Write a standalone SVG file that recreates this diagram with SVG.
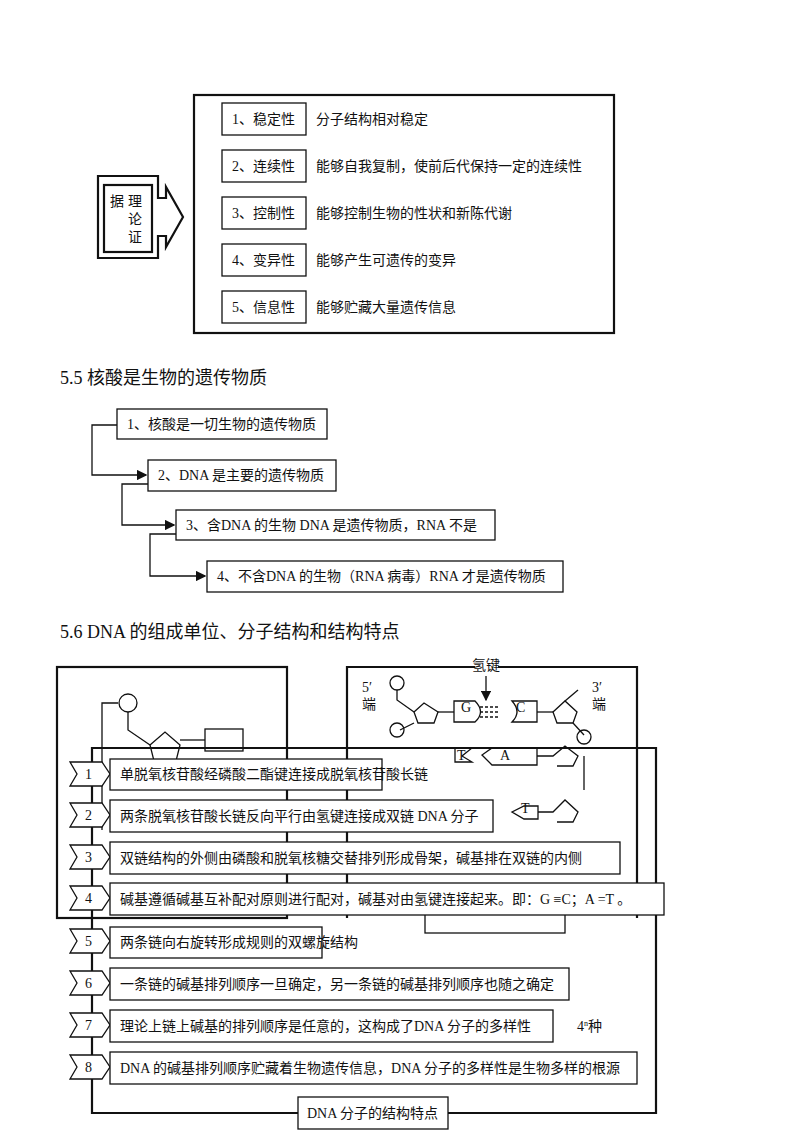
<svg xmlns="http://www.w3.org/2000/svg" width="800" height="1132" viewBox="0 0 800 1132">
<style>
text{font-family:"Liberation Serif","Noto Sans CJK SC",serif;font-size:14px;fill:#111}
.b{fill:#fff;stroke:#111;stroke-width:1.3}
.B{fill:none;stroke:#111;stroke-width:2.2}
.l{fill:none;stroke:#111;stroke-width:1.3}
.t{font-size:18px}
</style>
<defs><marker id="a" markerWidth="8" markerHeight="8" refX="7" refY="4" orient="auto"><path d="M0,0L8,4L0,8z" fill="#111"/></marker></defs>
<rect x="0" y="0" width="800" height="1132" fill="#fff"/>
<g id="top">
<rect class="B" x="194" y="95" width="420" height="238"/>
<path class="B" d="M98,176H158V198H166V187L183,217L166,247V236H158V258H98Z"/>
<rect class="B" x="104" y="185" width="48" height="67"/>
<text x="110" y="206">据</text><text x="128" y="206">理</text><text x="128" y="224">论</text><text x="128" y="242">证</text>
<rect class="b" x="222" y="103" width="84" height="32"/><text x="232" y="124">1、稳定性</text><text x="316" y="124">分子结构相对稳定</text>
<rect class="b" x="222" y="150" width="84" height="32"/><text x="232" y="171">2、连续性</text><text x="316" y="171">能够自我复制，使前后代保持一定的连续性</text>
<rect class="b" x="222" y="197" width="84" height="32"/><text x="232" y="218">3、控制性</text><text x="316" y="218">能够控制生物的性状和新陈代谢</text>
<rect class="b" x="222" y="244" width="84" height="32"/><text x="232" y="265">4、变异性</text><text x="316" y="265">能够产生可遗传的变异</text>
<rect class="b" x="222" y="291" width="84" height="32"/><text x="232" y="312">5、信息性</text><text x="316" y="312">能够贮藏大量遗传信息</text>
</g>
<text class="t" x="60" y="384">5.5 核酸是生物的遗传物质</text>
<g id="connectors55">
<path class="l" d="M117,425H92V475H146" marker-end="url(#a)"/>
<path class="l" d="M148,484H122V525H174" marker-end="url(#a)"/>
<path class="l" d="M176,534H150V576H205" marker-end="url(#a)"/>
</g>
<g id="n1"><rect class="b" x="117" y="409" width="210" height="30"/><text x="127" y="429">1、核酸是一切生物的遗传物质</text></g>
<g id="n2"><rect class="b" x="148" y="460" width="188" height="31"/><text x="158" y="480">2、DNA 是主要的遗传物质</text></g>
<g id="n3"><rect class="b" x="176" y="510" width="319" height="30"/><text x="186" y="530">3、含DNA 的生物 DNA 是遗传物质，RNA 不是</text></g>
<g id="n4"><rect class="b" x="207" y="561" width="356" height="31"/><text x="217" y="581">4、不含DNA 的生物（RNA 病毒）RNA 才是遗传物质</text></g>
<text class="t" x="60" y="638">5.6  DNA 的组成单位、分子结构和结构特点</text>
<g id="molecules">
<rect class="B" x="57" y="667" width="230" height="251"/>
<path class="B" d="M347,918V667H475M498,667H637V918"/>
<text x="472" y="670">氢键</text>
<path class="l" d="M486,676V700" marker-end="url(#a)"/>
<circle class="l" cx="128" cy="703" r="9"/>
<path class="l" d="M128,712V730L150,745"/>
<path class="l" d="M150,745L165,732L180,745L175,765L155,765Z"/>
<path class="l" d="M180,740H205"/><rect class="l" x="205" y="729" width="38" height="22"/>
<path class="l" d="M118,703H102V830"/>
<text x="362" y="692">5′</text><text x="362" y="709">端</text>
<text x="592" y="692">3′</text><text x="592" y="709">端</text>
<circle class="l" cx="397" cy="683" r="7"/>
<path class="l" d="M397,690V700L414,712"/>
<path class="l" d="M414,712L424,703L438,712L434,723L418,723Z"/>
<path class="l" d="M438,712H454"/>
<path class="l" d="M454,701H475Q486,712 475,722H454Z"/><text x="461" y="712" font-size="11">G</text>
<path class="l" stroke-dasharray="3,2" d="M480,707H500M480,712H500M480,717H500"/>
<path class="l" d="M537,701H512Q522,712 512,722H537Z"/><text x="516" y="712" font-size="11">C</text>
<path class="l" d="M537,712H553"/>
<path class="l" d="M553,712L565,701L577,712L573,723L557,723Z"/>
<path class="l" d="M565,701L578,690"/>
<path class="l" d="M573,723L584,735"/><circle class="l" cx="584" cy="737" r="7"/>
<circle class="l" cx="397" cy="730" r="7"/><path class="l" d="M414,723L400,730"/>
<path class="l" d="M387,748H410"/>
<path class="l" d="M455,748H472L462,756L472,762H455Z"/><text x="457" y="760" font-size="11">T</text>
<path class="l" d="M537,748H492L482,755L492,765H537Z"/><text x="500" y="760" font-size="11">A</text>
<path class="l" d="M537,756H553L565,746L578,756L573,766L557,766"/>
<path class="l" d="M538,806H524L512,812L524,819H538Z"/><text x="521" y="813" font-size="11">T</text>
<path class="l" d="M538,812H553L565,800L578,812L573,822L557,822"/>
<path class="l" d="M584,756V790"/>
<rect class="l" x="425" y="905" width="140" height="28"/>
</g>
<g id="frame">
<path class="B" d="M300,1113H92V748H656V1113H448"/>
</g>
<g id="features">
<g id="f1"><path class="b" d="M70,762H102L110,774L102,786H70L77,774Z"/><text x="85" y="779">1</text><rect class="b" x="110" y="759" width="272" height="31"/><text x="120" y="779">单脱氧核苷酸经磷酸二酯键连接成脱氧核苷酸长链</text></g>
<g id="f2"><path class="b" d="M70,803H102L110,815L102,827H70L77,815Z"/><text x="85" y="820">2</text><rect class="b" x="110" y="800" width="383" height="32"/><text x="120" y="821">两条脱氧核苷酸长链反向平行由氢键连接成双链 DNA 分子</text></g>
<g id="f3"><path class="b" d="M70,845H102L110,857L102,869H70L77,857Z"/><text x="85" y="862">3</text><rect class="b" x="110" y="842" width="510" height="32"/><text x="120" y="863">双链结构的外侧由磷酸和脱氧核糖交替排列形成骨架，碱基排在双链的内侧</text></g>
<g id="f4"><path class="b" d="M70,886H102L110,898L102,910H70L77,898Z"/><text x="85" y="903">4</text><rect class="b" x="110" y="883" width="554" height="32"/><text x="120" y="904">碱基遵循碱基互补配对原则进行配对，碱基对由氢键连接起来。即：G   ≡C；A   =T 。</text></g>
<g id="f5"><path class="b" d="M70,929H102L110,941L102,953H70L77,941Z"/><text x="85" y="946">5</text><rect class="b" x="110" y="927" width="212" height="31"/><text x="120" y="947">两条链向右旋转形成规则的双螺旋结构</text></g>
<g id="f6"><path class="b" d="M70,971H102L110,983L102,995H70L77,983Z"/><text x="85" y="988">6</text><rect class="b" x="110" y="968" width="459" height="32"/><text x="120" y="989">一条链的碱基排列顺序一旦确定，另一条链的碱基排列顺序也随之确定</text></g>
<g id="f7"><path class="b" d="M70,1013H102L110,1025L102,1037H70L77,1025Z"/><text x="85" y="1030">7</text><rect class="b" x="110" y="1010" width="443" height="32"/><text x="120" y="1031">理论上链上碱基的排列顺序是任意的，这构成了DNA 分子的多样性</text><text x="577" y="1031">4<tspan font-size="8" dy="-5">n</tspan><tspan dy="5">种</tspan></text></g>
<g id="f8"><path class="b" d="M70,1055H102L110,1067L102,1079H70L77,1067Z"/><text x="85" y="1072">8</text><rect class="b" x="110" y="1052" width="527" height="32"/><text x="120" y="1073">DNA 的碱基排列顺序贮藏着生物遗传信息，DNA 分子的多样性是生物多样的根源</text></g>
<g id="title"><rect class="b" x="298" y="1097" width="150" height="32" stroke-width="2"/><text x="307" y="1118">DNA 分子的结构特点</text></g>
</g>
</svg>
